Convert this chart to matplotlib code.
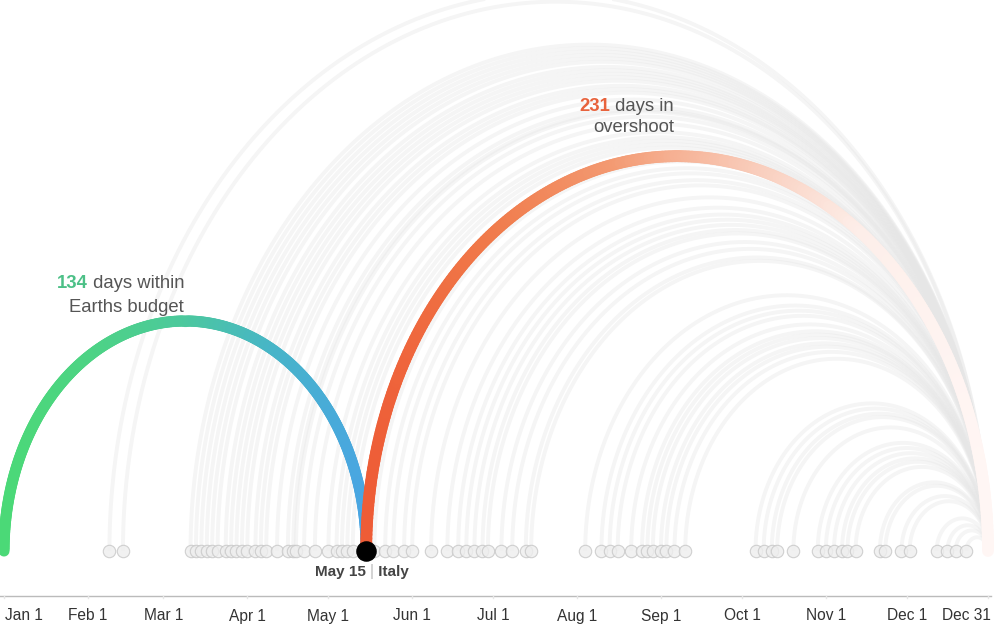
import numpy as np
import matplotlib.pyplot as plt
from matplotlib.collections import LineCollection
from matplotlib.colors import LinearSegmentedColormap

plt.rcParams['font.family'] = ['Liberation Sans', 'DejaVu Sans']

# overshoot day of each country, as day of year (Jan 1 = 0)
overshoot_days = [39, 44, 69, 71, 73, 75, 77, 79, 82, 84, 86, 88, 90, 93, 95, 97,
                  101, 105, 107, 108, 111, 115, 120, 123, 125, 127, 129, 137, 141, 144,
                  148, 151, 158, 164, 168, 171, 174, 177, 179, 184, 188, 193, 195, 215,
                  221, 224, 227, 232, 236, 238, 240, 243, 245, 248, 252, 278, 281, 284,
                  286, 292, 301, 304, 307, 310, 312, 315, 324, 326, 332, 335, 345, 349,
                  352, 356]
highlight_country = 'Italy'
highlight_label = 'May 15'
highlight_day = 134
year_end = 364
within_days = 134
overshoot_len = 231

tick_days = [0, 31, 59, 90, 120, 151, 181, 212, 243, 273, 304, 334, 364]
tick_labels = ['Jan 1', 'Feb 1', 'Mar 1', 'Apr 1', 'May 1', 'Jun 1', 'Jul 1',
               'Aug 1', 'Sep 1', 'Oct 1', 'Nov 1', 'Dec 1', 'Dec 31']

# hardcoded layout, px per day
S = 2.7033
ratio = 1.27


def arc(x0, x1, n=300):
    th = np.linspace(np.pi, 0, n)
    c = (x0 + x1) / 2.0
    r = (x1 - x0) / 2.0
    return c + r * np.cos(th), ratio * r * np.sin(th)


def py(p):
    # pixel row (from top) -> data y
    return (551 - p) / S


fig = plt.figure(figsize=(10.06, 6.37), dpi=100)
ax = fig.add_axes([0, 0, 1, 1])
ax.set_xlim(-4 / S, (1006 - 4) / S)
ax.set_ylim(py(637), py(0))
ax.axis('off')

# grey arcs, one per country
for d in overshoot_days:
    x, y = arc(d, year_end)
    ax.plot(x, y, color='#e6e6e6', lw=2.8, alpha=0.4, solid_capstyle='butt', zorder=1)

ax.scatter(overshoot_days, np.zeros(len(overshoot_days)), s=80, facecolor='#eeeeee',
           edgecolor='#c6c6c6', linewidth=0.8, alpha=0.8, zorder=2)


def gradient_arc(x0, x1, colors, lw):
    x, y = arc(x0, x1)
    pts = np.column_stack([x, y]).reshape(-1, 1, 2)
    segs = np.concatenate([pts[:-1], pts[1:]], axis=1)
    cmap = LinearSegmentedColormap.from_list('g', colors)
    t = ((x[:-1] + x[1:]) / 2 - x0) / (x1 - x0)
    lc = LineCollection(segs, colors=cmap(t), linewidths=lw, capstyle='round', zorder=3)
    ax.add_collection(lc)


gradient_arc(0, highlight_day, ['#4bd977', '#4dd385', '#4cc99c', '#47b5c8', '#49a5e2'], 8)
gradient_arc(highlight_day, year_end, ['#ee5c36', '#f07a4a', '#f39a72', '#f8c6b2', '#fdeee9', '#fff6f4'], 8.5)

ax.scatter([highlight_day], [0], s=190, color='black', zorder=5)

# labels
grey = '#555555'
t1 = ax.text((184 - 4) / S, py(288), ' days within', ha='right', va='baseline',
             fontsize=13.3, color=grey)
ax.annotate(str(within_days), xy=(0, 0), xycoords=t1, ha='right', va='bottom',
            fontsize=13.3, color='#4cc087', fontweight='bold')
ax.text((184 - 4) / S, py(312), 'Earths budget', ha='right', va='baseline',
        fontsize=13.3, color=grey)

t2 = ax.text((674 - 4) / S, py(111), ' days in', ha='right', va='baseline',
             fontsize=13.3, color=grey)
ax.annotate(str(overshoot_len), xy=(0, 0), xycoords=t2, ha='right', va='bottom',
            fontsize=13.3, color='#e8633d', fontweight='bold')
ax.text((674 - 4) / S, py(132), 'overshoot', ha='right', va='baseline',
        fontsize=13.3, color=grey)

bar = ax.text(highlight_day + 2.0, py(576), '|', ha='center', va='baseline',
              fontsize=11.5, color='#bbbbbb')
ax.annotate(highlight_label + ' ', xy=(0, 0), xycoords=bar, ha='right', va='bottom',
            fontsize=11, color='#444444', fontweight='bold')
ax.annotate(' ' + highlight_country, xy=(1, 0), xycoords=bar, ha='left', va='bottom',
            fontsize=11, color='#444444', fontweight='bold')

# time axis
ya = py(596)
ax.plot([-4 / S, year_end + 1], [ya, ya], color='#bbbbbb', lw=1, zorder=1)
for d in tick_days:
    ax.plot([d, d], [ya, ya - 2 / S], color='#e6e6e6', lw=1)
for d, lab in zip(tick_days, tick_labels):
    ha = 'center'
    x = d
    if d == tick_days[0]:
        ha = 'left'
        x = d + 1 / S
    elif d == tick_days[-1]:
        ha = 'right'
        x = d + 3 / S
    ax.text(x, py(620.5), lab, ha=ha, va='baseline', fontsize=11.2, color='#333333')

fig.savefig('out.png', dpi=100, facecolor='white')
